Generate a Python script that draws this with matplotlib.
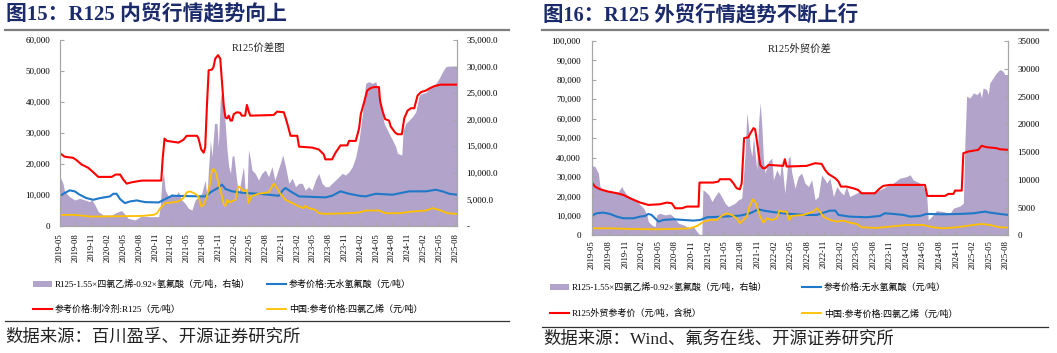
import matplotlib
matplotlib.use('Agg')
import matplotlib.pyplot as plt
import matplotlib.dates as mdates
from matplotlib.ticker import FuncFormatter, MultipleLocator
from matplotlib.patches import Patch
from matplotlib.lines import Line2D
import pandas as pd

FONT = ['Liberation Serif', 'Noto Sans CJK SC']
plt.rcParams['font.family'] = FONT

# ------------------------------------------------------------------ data
# ---- Figure 15 (domestic) ----
l_spread_dates = ["2019-05-01", "2019-05-18", "2019-05-28", "2019-06-26", "2019-07-25", "2019-08-23", "2019-09-22",
                  "2019-10-21", "2019-10-30", "2019-11-19", "2019-12-08", "2020-01-06", "2020-02-24", "2020-03-13",
                  "2020-04-02", "2020-04-21", "2020-05-10", "2020-05-29", "2020-07-07", "2020-08-15", "2020-09-23",
                  "2020-11-21", "2020-11-30", "2020-12-10", "2020-12-19", "2020-12-29", "2021-01-17", "2021-02-06",
                  "2021-02-25", "2021-03-15", "2021-04-04", "2021-04-23", "2021-05-12", "2021-06-01", "2021-06-20",
                  "2021-07-09", "2021-07-28", "2021-08-17", "2021-08-27", "2021-09-06", "2021-09-16", "2021-09-25",
                  "2021-10-10", "2021-10-24", "2021-11-01", "2021-11-12", "2021-11-22", "2021-12-02", "2021-12-12",
                  "2021-12-21", "2021-12-31", "2022-01-10", "2022-01-19", "2022-01-29", "2022-02-08", "2022-02-17",
                  "2022-02-27", "2022-03-12", "2022-03-26", "2022-04-05", "2022-04-15", "2022-04-24", "2022-05-04",
                  "2022-05-14", "2022-06-02", "2022-06-21", "2022-07-10", "2022-07-30", "2022-08-18", "2022-09-07",
                  "2022-09-23", "2022-10-06", "2022-10-25", "2022-11-08", "2022-11-24", "2022-12-13", "2023-01-02",
                  "2023-01-21", "2023-02-10", "2023-03-01", "2023-03-18", "2023-04-07", "2023-04-26", "2023-05-16",
                  "2023-06-04", "2023-06-23", "2023-07-12", "2023-08-01", "2023-08-20", "2023-09-09", "2023-09-29",
                  "2023-10-18", "2023-11-06", "2023-11-26", "2023-12-15", "2024-01-04", "2024-01-23", "2024-02-12",
                  "2024-03-01", "2024-03-20", "2024-04-09", "2024-04-28", "2024-05-08", "2024-05-17", "2024-05-27",
                  "2024-06-06", "2024-06-16", "2024-07-05", "2024-07-14", "2024-08-03", "2024-08-22", "2024-09-01",
                  "2024-09-26", "2024-10-04", "2024-10-19", "2024-11-08", "2024-11-27", "2024-12-16", "2025-01-05",
                  "2025-01-24", "2025-02-13", "2025-03-02", "2025-03-22", "2025-04-11", "2025-04-30", "2025-05-19",
                  "2025-06-07", "2025-06-27", "2025-08-08"]
l_spread = [9280, 8030, 6460, 5520, 4890, 5200, 4890,
            4580, 5020, 3950, 2700, 2070, 2070, 2380,
            2700, 2900, 2200, 1440, 1130, 1880, 1760,
            1760, 3640, 8650, 9900, 6770, 5520, 6140,
            5520, 6460, 4890, 4260, 3320, 3000, 4890,
            5520, 6140, 8650, 5520, 11160, 16180, 13040,
            19300, 19300, 14900, 23700, 25600, 23000, 18700,
            14300, 11160, 9900, 13040, 13350, 10530, 8030,
            6140, 8650, 11160, 6770, 5520, 14300, 12750,
            10530, 9900, 8650, 9900, 10530, 9280, 11160,
            8650, 9900, 11800, 13350, 11160, 8030, 8970,
            7400, 8030, 8030, 6770, 7400, 6770, 8650,
            9900, 8030, 7400, 7400, 8030, 8650, 9280,
            9900, 9590, 10220, 11160, 13040, 16180, 21200,
            26840, 27150, 26840, 27150, 26210, 25600, 22450,
            21200, 19300, 18060, 17430, 16180, 14900, 13670,
            13350, 18060, 19300, 19940, 20570, 21500, 24640,
            24960, 25100, 25900, 26210, 26840, 27780, 29000,
            29970, 30100, 30100]

l_r125_dates = ["2019-05-01", "2019-05-28", "2019-07-15", "2019-08-04", "2019-09-02", "2019-10-11", "2019-11-09",
                "2019-12-08", "2020-02-24", "2020-03-17", "2020-04-12", "2020-05-01", "2020-05-20", "2020-06-18",
                "2020-08-15", "2020-12-06", "2020-12-14", "2020-12-25", "2021-01-08", "2021-03-15", "2021-04-13",
                "2021-05-02", "2021-06-30", "2021-07-09", "2021-07-25", "2021-08-08", "2021-08-17", "2021-08-27",
                "2021-09-06", "2021-09-25", "2021-10-04", "2021-10-14", "2021-10-30", "2021-11-12", "2021-11-22",
                "2021-12-02", "2021-12-12", "2021-12-21", "2021-12-31", "2022-01-10", "2022-01-19", "2022-01-29",
                "2022-02-17", "2022-03-07", "2022-03-16", "2022-04-05", "2022-04-15", "2022-04-24", "2022-05-04",
                "2022-09-17", "2022-10-06", "2022-11-14", "2022-11-24", "2022-12-09", "2022-12-23", "2023-01-31",
                "2023-02-10", "2023-04-26", "2023-06-04", "2023-07-03", "2023-07-12", "2023-08-20", "2023-09-09",
                "2023-10-08", "2023-11-16", "2023-11-26", "2024-01-04", "2024-01-23", "2024-02-02", "2024-02-21",
                "2024-03-10", "2024-03-30", "2024-04-18", "2024-05-17", "2024-05-23", "2024-06-06", "2024-06-21",
                "2024-07-14", "2024-07-24", "2024-08-18", "2024-09-01", "2024-09-26", "2024-10-10", "2024-10-29",
                "2024-11-18", "2024-12-07", "2024-12-26", "2025-01-15", "2025-02-13", "2025-03-02", "2025-04-01",
                "2025-05-09", "2025-08-08"]
l_r125 = [23440, 22350, 22000, 21270, 19860, 18770, 17360,
          15840, 15840, 16600, 16600, 14970, 13670, 14100,
          14650, 14650, 21500, 28200, 27450, 26900, 27800,
          29100, 29100, 28300, 24700, 23650, 25300, 38840,
          50240, 50450, 51300, 54000, 55100, 54000, 46400,
          38800, 35000, 34700, 35600, 34000, 34000, 36100,
          36700, 36500, 35600, 35600, 39060, 37200, 35600,
          35800, 36900, 36700, 35000, 32100, 29100, 29100,
          25600, 25300, 24700, 23100, 21500, 21500, 23650,
          26000, 26000, 27450, 27450, 31460, 36100, 39900,
          43700, 44500, 44800, 44800, 40500, 37200, 34500,
          34000, 32100, 30160, 29600, 29600, 34700, 37200,
          38000, 38000, 42100, 43200, 43700, 44300, 45100,
          45600, 45600]

l_hf_dates = ["2019-05-01", "2019-05-28", "2019-06-26", "2019-07-25", "2019-08-23", "2019-10-01", "2019-11-09",
              "2019-12-18", "2020-02-14", "2020-03-04", "2020-03-23", "2020-04-12", "2020-05-10", "2020-06-09",
              "2020-07-17", "2020-09-04", "2020-11-21", "2020-12-29", "2021-02-06", "2021-07-28", "2021-08-17",
              "2021-09-25", "2021-10-30", "2021-11-22", "2021-12-12", "2022-01-19", "2022-04-05", "2022-06-21",
              "2022-08-18", "2022-10-16", "2022-11-08", "2022-11-24", "2022-12-23", "2023-02-10", "2023-07-12",
              "2023-08-20", "2023-10-08", "2023-11-26", "2024-01-23", "2024-03-01", "2024-04-28", "2024-08-03",
              "2024-11-08", "2025-02-13", "2025-04-11", "2025-05-19", "2025-06-27", "2025-08-08"]
l_hf = [9760, 10630, 11500, 11180, 10090, 9000, 8460,
        9000, 9550, 10400, 10400, 8680, 7380, 7920,
        8250, 7700, 7600, 8680, 9760, 9550, 9550,
        11180, 12260, 13350, 11930, 11180, 10630, 10400,
        10090, 9760, 11500, 12260, 11180, 9550, 9230,
        9760, 11180, 10400, 9760, 9550, 10400, 10090,
        11180, 11180, 11700, 11180, 10400, 10090]

l_pce_dates = ["2019-05-01", "2019-07-25", "2019-10-30", "2020-08-15", "2020-10-22", "2020-11-11", "2020-11-30",
               "2020-12-29", "2021-02-06", "2021-03-15", "2021-04-13", "2021-05-02", "2021-05-21", "2021-06-20",
               "2021-07-09", "2021-07-25", "2021-08-08", "2021-08-27", "2021-09-10", "2021-09-25", "2021-10-04",
               "2021-10-18", "2021-11-01", "2021-11-22", "2021-12-02", "2021-12-12", "2021-12-21", "2022-01-04",
               "2022-02-08", "2022-02-23", "2022-03-12", "2022-03-26", "2022-04-15", "2022-04-24", "2022-05-10",
               "2022-06-21", "2022-08-18", "2022-09-17", "2022-10-06", "2022-10-25", "2022-11-24", "2023-01-02",
               "2023-02-10", "2023-03-09", "2023-03-18", "2023-04-07", "2023-05-16", "2023-06-04", "2023-07-12",
               "2023-11-26", "2024-01-23", "2024-03-01", "2024-05-17", "2024-06-25", "2024-09-11", "2024-11-27",
               "2025-02-13", "2025-03-22", "2025-04-30", "2025-06-17", "2025-08-08"]
l_pce = [3580, 3580, 3040, 3250, 3580, 4120, 5750,
         7380, 7600, 7920, 9000, 10850, 11180, 10400,
         9550, 6300, 6800, 9550, 12800, 17700, 18440,
         17140, 13900, 9550, 6830, 6500, 8460, 7600,
         8460, 12800, 12260, 11180, 11720, 7380, 9550,
         10400, 10850, 13670, 12260, 10400, 8460, 7380,
         6300, 5750, 6500, 5750, 5200, 4120, 3900,
         4120, 4340, 5000, 5000, 4120, 4120, 4670,
         5000, 5750, 5200, 4120, 3900]

# ---- Figure 16 (export) ----
r_spread_dates = ["2019-05-01", "2019-05-17", "2019-06-05", "2019-06-14", "2019-07-02", "2019-07-30", "2019-08-27",
                  "2019-09-24", "2019-10-12", "2019-10-21", "2019-11-09", "2019-12-07", "2020-01-04", "2020-02-10",
                  "2020-02-28", "2020-03-07", "2020-03-25", "2020-04-13", "2020-04-22", "2020-05-10", "2020-06-07",
                  "2020-07-05", "2020-07-23", "2020-08-20", "2020-09-17", "2020-10-23", "2020-11-11", "2020-11-30",
                  "2020-12-18", "2020-12-27", "2021-01-02", "2021-01-15", "2021-02-03", "2021-02-21", "2021-03-09",
                  "2021-03-28", "2021-04-15", "2021-05-04", "2021-05-22", "2021-06-10", "2021-06-28", "2021-07-16",
                  "2021-08-04", "2021-08-13", "2021-08-23", "2021-09-01", "2021-09-10", "2021-09-19", "2021-09-29",
                  "2021-10-08", "2021-10-17", "2021-10-26", "2021-11-05", "2021-11-14", "2021-11-23", "2021-12-02",
                  "2021-12-11", "2021-12-30", "2022-01-17", "2022-01-26", "2022-02-14", "2022-03-03", "2022-03-12",
                  "2022-03-30", "2022-04-18", "2022-04-27", "2022-05-06", "2022-05-25", "2022-06-12", "2022-07-01",
                  "2022-07-19", "2022-08-07", "2022-08-25", "2022-09-13", "2022-10-01", "2022-10-19", "2022-11-07",
                  "2022-11-16", "2022-12-04", "2022-12-23", "2023-01-11", "2023-01-29", "2023-02-17", "2023-03-05",
                  "2023-03-23", "2023-04-11", "2023-04-30", "2023-05-17", "2023-06-05", "2023-07-12", "2023-08-18",
                  "2023-09-06", "2023-10-12", "2023-11-18", "2023-12-25", "2024-02-01", "2024-02-19", "2024-03-07",
                  "2024-03-26", "2024-04-13", "2024-05-01", "2024-05-20", "2024-05-29", "2024-06-17", "2024-07-14",
                  "2024-08-20", "2024-09-27", "2024-10-15", "2024-11-21", "2024-12-09", "2024-12-18", "2024-12-27",
                  "2025-01-15", "2025-02-03", "2025-02-21", "2025-03-10", "2025-03-19", "2025-03-28", "2025-04-16",
                  "2025-04-25", "2025-05-04", "2025-05-22", "2025-06-10", "2025-06-28", "2025-07-16", "2025-07-25",
                  "2025-08-14"]
r_spread = [12520, 12400, 11200, 8790, 8190, 7890, 7590,
            7890, 8790, 8190, 7280, 6680, 6080, 4880,
            3670, 2470, 1870, 1560, 3670, 3970, 3670,
            3850, 3370, 2170, 1870, 1260, 1560, 660,
            0, 0, 8190, 7890, 7280, 6080, 6980,
            7890, 6980, 5780, 5180, 5480, 5780, 6380,
            6680, 10290, 14810, 22030, 19630, 16010, 14210,
            17820, 14810, 11800, 20230, 23840, 19630, 13610,
            11200, 13300, 13910, 9990, 11800, 10590, 13610,
            7590, 13910, 14210, 11500, 8490, 10590, 11200,
            9390, 8790, 9990, 6380, 6980, 10900, 9990,
            9390, 10290, 6980, 8790, 7890, 7280, 8790,
            6980, 7280, 7590, 7890, 7590, 7590, 7890,
            8190, 8790, 9390, 10290, 10590, 10900, 9990,
            9690, 9390, 8790, 7590, 2770, 3370, 4450,
            4270, 3970, 4880, 5300, 5780, 17220, 25040,
            24740, 25650, 25340, 25950, 24740, 26550, 26250,
            25340, 27450, 28350, 29260, 29860, 29560, 28960,
            28960]

r_r125_dates = ["2019-05-01", "2019-05-17", "2019-06-14", "2019-07-30", "2019-09-15", "2019-10-21", "2019-11-27",
                "2020-01-22", "2020-03-07", "2020-05-10", "2020-06-17", "2020-07-14", "2020-08-02", "2020-09-08",
                "2020-10-05", "2020-12-09", "2020-12-14", "2021-02-28", "2021-03-28", "2021-04-06", "2021-06-01",
                "2021-06-19", "2021-07-07", "2021-07-25", "2021-08-04", "2021-08-17", "2021-09-10", "2021-09-19",
                "2021-10-08", "2021-10-17", "2021-10-26", "2021-11-05", "2021-11-14", "2021-11-29", "2021-12-11",
                "2021-12-30", "2022-03-21", "2022-03-30", "2022-04-09", "2022-07-28", "2022-09-13", "2022-10-19",
                "2022-11-07", "2022-11-25", "2023-01-02", "2023-01-20", "2023-02-02", "2023-03-05", "2023-04-11",
                "2023-05-08", "2023-05-27", "2023-08-09", "2023-09-06", "2023-09-24", "2023-10-31", "2024-05-11",
                "2024-05-24", "2024-08-30", "2024-09-17", "2024-10-15", "2024-10-24", "2024-11-30", "2024-12-09",
                "2025-01-06", "2025-03-01", "2025-03-19", "2025-04-16", "2025-06-10", "2025-06-28", "2025-08-14"]
r_r125 = [27140, 25080, 23700, 22500, 21650, 20790, 19070,
          16840, 15630, 15980, 16840, 16500, 13920, 13920,
          14780, 14780, 27140, 27140, 27660, 28860, 28860,
          26800, 24220, 23700, 26800, 50000, 50500, 52230,
          55150, 54600, 49130, 42260, 36250, 34530, 34530,
          36250, 35730, 39170, 35390, 35730, 37100, 36760,
          33670, 31610, 29380, 27660, 25080, 25080, 24220,
          23360, 21650, 21650, 24220, 25430, 25940, 25940,
          20270, 20270, 21300, 21300, 23020, 23020, 42260,
          43120, 43980, 46040, 45360, 44840, 44300, 43980]

r_hf_dates = ["2019-05-01", "2019-05-26", "2019-07-02", "2019-08-08", "2019-09-15", "2019-10-21", "2019-12-16",
              "2020-01-22", "2020-02-18", "2020-03-07", "2020-03-25", "2020-04-13", "2020-05-01", "2020-05-29",
              "2020-07-23", "2020-09-17", "2020-11-11", "2020-12-18", "2021-01-24", "2021-04-24", "2021-07-25",
              "2021-09-19", "2021-11-05", "2021-12-02", "2022-02-14", "2022-04-27", "2022-07-28", "2022-09-22",
              "2022-12-04", "2023-01-02", "2023-01-20", "2023-03-23", "2023-06-24", "2023-09-06", "2023-10-03",
              "2023-11-18", "2024-01-13", "2024-02-19", "2024-04-13", "2024-05-20", "2024-08-20", "2024-11-21",
              "2025-02-03", "2025-04-07", "2025-05-04", "2025-06-28", "2025-08-14"]
r_hf = [10140, 11340, 11680, 11000, 9620, 8760, 8760,
        9620, 9960, 11000, 10480, 8760, 7040, 7900,
        8250, 7900, 7560, 7900, 9280, 9620, 10140,
        11340, 13400, 12710, 11680, 11000, 10480, 10480,
        12710, 12710, 10480, 9620, 9280, 9960, 11340,
        11000, 10480, 9620, 9960, 11000, 10820, 11000,
        11340, 12200, 11680, 11000, 10480]

r_pce_dates = ["2019-05-01", "2019-08-08", "2019-11-27", "2020-04-22", "2020-09-17", "2020-10-23", "2020-11-30",
               "2021-01-06", "2021-02-12", "2021-03-18", "2021-04-15", "2021-05-13", "2021-06-10", "2021-07-07",
               "2021-07-25", "2021-08-13", "2021-09-01", "2021-09-16", "2021-10-04", "2021-10-17", "2021-10-30",
               "2021-11-14", "2021-12-02", "2021-12-20", "2022-01-17", "2022-02-14", "2022-02-28", "2022-03-17",
               "2022-04-09", "2022-04-23", "2022-05-06", "2022-07-10", "2022-08-07", "2022-09-04", "2022-09-22",
               "2022-10-10", "2022-10-28", "2022-12-04", "2023-01-11", "2023-02-17", "2023-03-23", "2023-04-30",
               "2023-05-27", "2023-08-18", "2023-10-31", "2024-02-01", "2024-05-01", "2024-06-26", "2024-08-20",
               "2024-11-02", "2025-02-03", "2025-03-19", "2025-05-04", "2025-06-28", "2025-08-14"]
r_pce = [3600, 3600, 3260, 3090, 3430, 3600, 4800,
         7040, 7900, 7900, 9960, 11340, 10480, 8760,
         6180, 7900, 9620, 14770, 18550, 17350, 13920,
         9620, 6530, 8760, 7900, 8760, 12710, 12200,
         12200, 7900, 9960, 10480, 11340, 12200, 13920,
         12200, 9620, 7900, 7040, 7560, 6530, 5840,
         4120, 3780, 4470, 5330, 5330, 4120, 3600,
         4120, 5330, 5840, 5330, 4120, 3950]

# ---- text ----
title_l = "图15：R125 内贸行情趋势向上"
title_r = "图16：R125 外贸行情趋势不断上行"
inner_l = "R125价差图"
inner_r = "R125外贸价差"
lab_spread = "R125-1.55×四氯乙烯-0.92×氢氟酸（元/吨，右轴）"
lab_hf = "参考价格:无水氢氟酸（元/吨）"
lab_r125_l = "参考价格:制冷剂:R125（元/吨）"
lab_r125_r = "R125外贸参考价（元/吨，含税）"
lab_pce = "中国:参考价格:四氯乙烯（元/吨）"
source_l = "数据来源：百川盈孚、开源证券研究所"
source_r = "数据来源：Wind、氟务在线、开源证券研究所"

# ------------------------------------------------------------------ style
PURPLE = '#B1A3C9'
RED = '#FF0000'
BLUE = '#1F78C8'
YELLOW = '#FFC000'
NAVY = '#1B2A6B'
SPINE = '#A6A6A6'
W, H = 1057, 353

fig = plt.figure(figsize=(W / 100, H / 100), dpi=100)


def fx(px):
    return px / W


def fy(py):
    return 1 - py / H


def panel(box, sp_d, sp_v, r_d, r_v, h_d, h_v, p_d, p_v, xmax, ymax_l, fmt_l, fmt_r,
          inner, r_lab, pad_l, pad_r, pad_x):
    x0, y0, x1, y1 = box
    ax = fig.add_axes([fx(x0), fy(y1), fx(x1 - x0), (y1 - y0) / H])
    ax2 = ax.twinx()
    ax.set_zorder(ax2.get_zorder() + 1)
    ax.patch.set_visible(False)

    a = ax2.fill_between(pd.to_datetime(sp_d), sp_v, 0, color=PURPLE, lw=0, label=lab_spread)
    l_r, = ax.plot(pd.to_datetime(r_d), r_v, color=RED, lw=1.5, label=r_lab)
    l_h, = ax.plot(pd.to_datetime(h_d), h_v, color=BLUE, lw=1.5, label=lab_hf)
    l_p, = ax.plot(pd.to_datetime(p_d), p_v, color=YELLOW, lw=1.3, label=lab_pce)

    ax.set_xlim(pd.Timestamp('2019-05-01'), pd.Timestamp(xmax))
    ax.set_ylim(0, ymax_l)
    ax2.set_ylim(0, 35000)
    ax.yaxis.set_major_locator(MultipleLocator(10000))
    ax2.yaxis.set_major_locator(MultipleLocator(5000))
    ax.yaxis.set_major_formatter(FuncFormatter(fmt_l))
    ax2.yaxis.set_major_formatter(FuncFormatter(fmt_r))
    ax.xaxis.set_major_locator(mdates.MonthLocator(bymonth=[2, 5, 8, 11]))
    ax.xaxis.set_major_formatter(mdates.DateFormatter('%Y-%m'))

    for s in ['top']:
        ax.spines[s].set_visible(False)
        ax2.spines[s].set_visible(False)
    for s in ['left', 'bottom', 'right']:
        ax.spines[s].set_color(SPINE)
        ax2.spines[s].set_color(SPINE)
    ax.tick_params(axis='y', direction='in', length=3, color=SPINE, labelsize=6.5, pad=pad_l)
    ax2.tick_params(axis='y', direction='in', length=3, color=SPINE, labelsize=6.5, pad=pad_r)
    ax.tick_params(axis='x', direction='in', length=3, color=SPINE, labelsize=6.2, pad=pad_x,
                   labelrotation=90)
    ax.text(0.5, 0.985, inner, transform=ax.transAxes, ha='center', va='top', fontsize=7.5,
            color='#222222')
    return a, l_r, l_h, l_p


def legend_cols(handles, labels, xs, ytop, spacing):
    for col in range(2):
        hs = handles[col * 2:col * 2 + 2]
        ls = labels[col * 2:col * 2 + 2]
        fig.legend(hs, ls, loc='upper left', bbox_to_anchor=(fx(xs[col]), fy(ytop)),
                   frameon=False, fontsize=6.5, handlelength=2.15, handleheight=0.5,
                   handletextpad=0.3, labelspacing=spacing, borderpad=0, borderaxespad=0)


fmt_comma = lambda v, p: f'{v:,.0f}'
fmt_acc = lambda v, p: '-' if v == 0 else f'{v:,.1f}'
fmt_plain = lambda v, p: f'{v:.0f}'

# ---- left panel ----
a, lr, lh, lp = panel((60, 40, 456.5, 226), l_spread_dates, l_spread, l_r125_dates, l_r125,
                      l_hf_dates, l_hf, l_pce_dates, l_pce, '2025-08-08', 60000,
                      fmt_comma, fmt_acc, inner_l, lab_r125_l, 7, 7, 5)
sp_handle = Patch(facecolor=PURPLE, edgecolor='none')
legend_cols([sp_handle, lr, lh, lp], [lab_spread, lab_r125_l, lab_hf, lab_pce], (33, 267), 280, 1.72)

# ---- right panel ----
a, lr, lh, lp = panel((592, 41, 1008.3, 235.3), r_spread_dates, r_spread, r_r125_dates, r_r125,
                      r_hf_dates, r_hf, r_pce_dates, r_pce, '2025-08-14', 100000,
                      fmt_comma, fmt_plain, inner_r, lab_r125_r, 8, 6.5, 3.6)
legend_cols([sp_handle, lr, lh, lp], [lab_spread, lab_r125_r, lab_hf, lab_pce], (550, 802), 283, 1.88)

# ---- titles, rules, sources ----
fig.text(fx(6), fy(15), title_l, fontsize=15, fontweight='bold', color=NAVY, ha='left', va='center')
fig.text(fx(543), fy(15), title_r, fontsize=14.7, fontweight='bold', color=NAVY, ha='left', va='center')
fig.add_artist(Line2D([fx(5), fx(509)], [fy(29.5), fy(29.5)], color='#7F7F7F', lw=1.6))
fig.add_artist(Line2D([fx(542), fx(1048)], [fy(29.5), fy(29.5)], color='#7F7F7F', lw=1.6))
fig.add_artist(Line2D([fx(5), fx(509)], [fy(321), fy(321)], color='#333333', lw=0.9))
fig.add_artist(Line2D([fx(542), fx(1048)], [fy(327), fy(327)], color='#333333', lw=0.9))
fig.text(fx(5), fy(338), source_l, fontsize=12.5, color='#222222', ha='left', va='center')
fig.text(fx(543), fy(340), source_r, fontsize=12.5, color='#222222', ha='left', va='center')

fig.savefig('out.png', dpi=100)
